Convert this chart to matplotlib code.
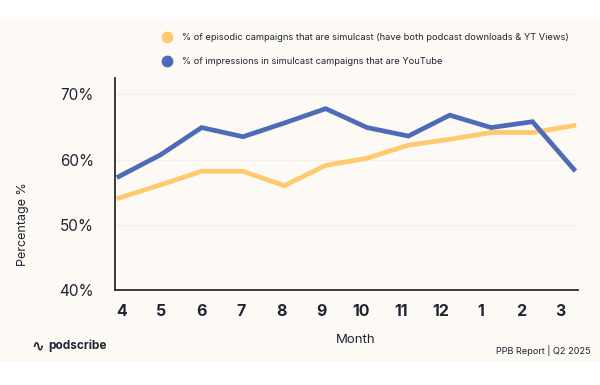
import matplotlib
matplotlib.use('Agg')
import matplotlib.pyplot as plt
import numpy as np
from matplotlib.patches import Rectangle
from matplotlib.lines import Line2D

# monthly values (Apr 2024 -> Mar 2025)
months = ['4', '5', '6', '7', '8', '9', '10', '11', '12', '1', '2', '3']
simulcast_share = [54.1, 56.1, 58.2, 58.2, 56.0, 59.1, 60.2, 62.2, 63.1, 64.15, 64.15, 65.2]
youtube_share = [57.4, 60.7, 64.9, 63.5, 65.6, 67.8, 64.9, 63.6, 66.8, 64.9, 65.8, 58.5]

legend_labels = ['% of episodic campaigns that are simulcast (have both podcast downloads & YT Views)',
                 '% of impressions in simulcast campaigns that are YouTube']
yticks = [40, 50, 60, 70]

yellow = '#fec96f'
blue = '#4d6bb7'
ink = '#1f2433'
cream = '#fdfaf6'

plt.rcParams['font.family'] = ['Inter', 'DejaVu Sans']

fig = plt.figure(figsize=(6, 3.85), dpi=100)
fig.patch.set_facecolor('white')
# cream panel behind the chart
fig.patches.append(Rectangle((0, 23 / 385), 1, 342 / 385, transform=fig.transFigure,
                             facecolor=cream, edgecolor='none', zorder=-10))

ax = fig.add_axes([0.1913, 0.2468, 0.772, 0.5506])
ax.patch.set_alpha(0)

x = np.arange(len(months))
ax.plot(x, simulcast_share, color=yellow, lw=3.4, solid_joinstyle='miter', zorder=3)
ax.plot(x, youtube_share, color=blue, lw=3.4, solid_joinstyle='miter', zorder=4)

ax.set_xlim(-0.1, 11.1)
ax.set_ylim(40, 72.5)

ax.set_yticks(yticks)
ax.set_yticklabels([f'{v}%' for v in yticks], fontsize=11, color=ink)
ax.tick_params(axis='y', length=0, pad=15)

# month labels sit on their own slightly tighter spacing in the original
ax.set_xticks(np.linspace(0.065, 10.68, len(months)))
ax.set_xticklabels(months, fontsize=11.5, fontweight='bold', color=ink)
ax.tick_params(axis='x', length=0, pad=10)

for yv in yticks[1:]:
    ax.axhline(yv, color='#f3eee8', lw=1, zorder=1)

for s in ['top', 'right']:
    ax.spines[s].set_visible(False)
for s in ['left', 'bottom']:
    ax.spines[s].set_color('#2b2b2b')
    ax.spines[s].set_linewidth(1.3)

fig.text(23 / 600, 1 - 224 / 385, 'Percentage %', rotation=90, ha='center', va='center',
         fontsize=9, color=ink)
fig.text(356 / 600, 1 - 340 / 385, 'Month', ha='center', va='center', fontsize=9.5, color=ink)

renderer = fig.canvas.get_renderer()


def fit_text(t, width_px):
    # shrink/grow a text so it spans the same width as in the original
    w = t.get_window_extent(renderer).width
    t.set_fontsize(t.get_fontsize() * width_px / w)


# legend drawn by hand at top
for i, (lab, col) in enumerate(zip(legend_labels, [yellow, blue])):
    yy = 1 - (37.3 + 23.7 * i) / 385
    fig.add_artist(Line2D([166.7 / 600], [yy], marker='o', markersize=7.5, color=col,
                          linestyle='none', transform=fig.transFigure))
    t = fig.text(182 / 600, yy, lab, ha='left', va='center', fontsize=8, color=ink)
    if i == 0:
        fit_text(t, 387)
        legend_size = t.get_fontsize()
    else:
        t.set_fontsize(legend_size)

t = fig.text(591 / 600, 1 - 350 / 385, 'PPB Report | Q2 2025', ha='right', va='center',
             fontsize=7.5, color=ink)
fit_text(t, 94)
fig.text(31 / 600, 1 - 346 / 385, '\u223f', ha='left', va='center', fontsize=11, fontweight='bold',
         family=['DejaVu Sans'], color=ink)
fig.text(48 / 600, 1 - 346 / 385, 'podscribe', ha='left', va='center', fontsize=8.5,
         fontweight='bold', color=ink)

fig.savefig('out.png', dpi=100)
